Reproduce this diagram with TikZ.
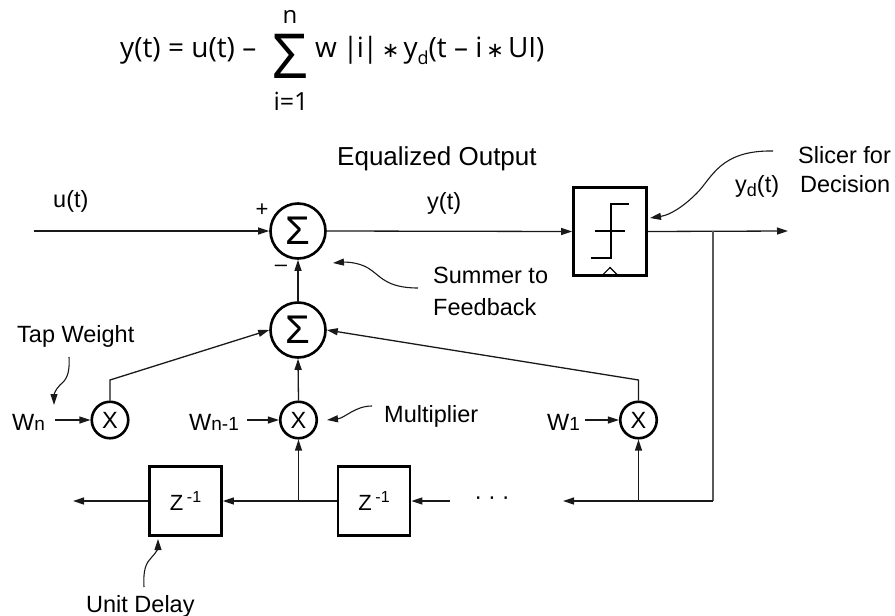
\documentclass[tikz,border=0pt]{standalone}
\usepackage{fontspec}
\setmainfont{Liberation Sans}
\newfontfamily\eqfont{Open Sans}
\newfontfamily\symfont{DejaVu Sans}
\usetikzlibrary{arrows.meta}
\newcommand\myfs[1]{\fontsize{#1}{#1}\selectfont}
\newcommand\myast{{\symfont\myfs{21}∗}}
\begin{document}
\begin{tikzpicture}[x=1pt,y=-1pt,
  conn/.style={line width=1.3pt, draw=black!90},
  arr/.style={conn, -{Triangle[length=11pt,width=7pt]}},
  sumnode/.style={circle, draw, line width=2.6pt, minimum size=55pt, inner sep=0pt, font=\myfs{40}},
  mulnode/.style={circle, draw, line width=2.6pt, minimum size=36.5pt, inner sep=0pt, font=\myfs{23.5}},
  delaybox/.style={rectangle, draw, line width=2.8pt, minimum width=72pt, minimum height=69pt, inner sep=0pt, font=\myfs{22}},
  slicerbox/.style={rectangle, draw, line width=2.8pt, minimum width=73pt, minimum height=88pt, inner sep=0pt},
  lbl/.style={inner sep=0pt, anchor=base west, font=\myfs{23.5}},
  eq/.style={inner sep=0pt, font=\eqfont\myfs{28}},
  stepline/.style={line width=2.4pt},
]
\useasboundingbox (0,0) rectangle (895,616);

% formula
\node[eq, anchor=base west] (f1) at (120,57) {y(t) = u(t) –};
\node[eq, anchor=base, font=\eqfont\myfs{62}] (fsig) at (290,78) {Σ};
\node[eq, anchor=base, font=\eqfont\myfs{24}] (fn) at (290,23) {n};
\node[eq, anchor=base, font=\eqfont\myfs{25}] (fi) at (291,110) {i=1};
\node[eq, anchor=base west] (f2) at (315,57) {w\hspace{6pt}|\kern-1.5pt i\kern-1.5pt|\hspace{4pt}\myast\hspace{4pt}y\raisebox{-7pt}{\myfs{18}d}(t – i\hspace{4pt}\myast\hspace{4pt}UI)};

% blocks
\node[sumnode] (sumA) at (298,231) {Σ};
\node[sumnode] (sumB) at (298,330) {Σ};
\node[mulnode] (mulN) at (110,420) {X};
\node[mulnode] (mulM) at (298.5,420) {X};
\node[mulnode] (mul1) at (638.5,420) {X};
\node[delaybox] (dL) at (185.5,501) {Z\,\raisebox{8pt}{\myfs{16}-1}};
\node[delaybox] (dR) at (374,501) {Z\,\raisebox{8pt}{\myfs{16}-1}};
\node[slicerbox] (slc) at (610,231.5) {};

% slicer symbol
\draw[stepline] (590.7,258) -- (610.7,258) -- (610.7,204) -- (629,204);
\draw[stepline] (595,231) -- (625,231);
\draw[line width=1.1pt] (601.7,276) -- (610,267.5) -- (618.5,276);

% coordinates
\coordinate (uin) at (34,231);
\coordinate (yout) at (788,231);
\coordinate (fbt) at (713,231);
\coordinate (fbb) at (713,501);
\coordinate (tap1) at (638.5,501);
\coordinate (dotsEnd) at (563,501);
\coordinate (dIn) at (450,501);
\coordinate (tapM) at (298.5,501);
\coordinate (dOut) at (73,501);
\coordinate (kN) at (110,380);
\coordinate (k1) at (638.5,380);
\node[inner sep=0pt, font=\myfs{23.5}] (dots) at (492,501) {·\hspace{6pt}·\hspace{6pt}·};

% connectors
\draw[arr] (uin) -- (sumA.west);
\draw[arr] (sumA.east) -- (slc.west);
\draw[arr] (slc.east) -- (yout);
\draw[line width=1.8pt, draw=black!65] (fbt) -- (fbb);
\draw[arr] (fbb) -- (dotsEnd);
\draw[arr] (tap1) -- (mul1.south);
\draw[arr] (dIn) -- (dR.east);
\draw[arr] (dR.west) -- (dL.east);
\draw[arr] (tapM) -- (mulM.south);
\draw[arr] (dL.west) -- (dOut);
\draw[arr] (mulN.north) -- (kN) -- (sumB.west);
\draw[arr] (mul1.north) -- (k1) -- (sumB.east);
\draw[arr] (mulM.north) -- (sumB.south);
\draw[arr] (sumB.north) -- (sumA.south);

% weights
\node[lbl] (wN) at (12,430) {W{\myfs{19}n}};
\node[lbl] (wM) at (189,430) {W{\myfs{19}n-1}};
\node[lbl] (w1) at (547,430) {W{\myfs{19}1}};
\draw[arr, shorten <=10pt] (wN.east |- mulN) -- (mulN.west);
\draw[arr, shorten <=8pt] (wM.east |- mulM) -- (mulM.west);
\draw[arr, shorten <=5pt] (w1.east |- mul1) -- (mul1.west);

% labels
\node[lbl] (uLbl) at (53,207) {u(t)};
\node[lbl] (yLbl) at (427,209) {y(t)};
\node[lbl, font=\myfs{26}] (eqLbl) at (337,165) {Equalized Output};
\node[inner sep=0pt, font=\myfs{22}] (plus) at (262,210) {+};
\node[inner sep=0pt, font=\myfs{22}] (minus) at (281,268) {–};
\node[lbl] (sm1) at (433,283) {Summer to};
\node[lbl] (sm2) at (433,315) {Feedback};
\node[lbl] (sl1) at (798,163) {Slicer for};
\node[lbl] (sl2) at (800,192) {Decision};
\node[lbl] (yd) at (735,192) {y\raisebox{-4pt}{\myfs{18}d}(t)};
\node[lbl] (mult) at (384,422) {Multiplier};
\node[lbl] (tapw) at (17,342) {Tap Weight};
\node[lbl] (unit) at (86,612) {Unit Delay};

% annotation pointers
\coordinate (slS) at (773,151);
\coordinate (slT) at (650,218);
\draw[arr, line width=1.1pt] (slS) .. controls (720,150) and (712,178) .. (697,193) .. controls (683,207) and (670,215) .. (slT);
\coordinate (smS) at (418,288);
\coordinate (smT) at (333,263);
\draw[arr, line width=1.1pt] (smS) .. controls (385,288) and (380,275) .. (368,268) .. controls (358,262) and (345,262) .. (smT);
\coordinate (muS) at (372,406);
\coordinate (muT) at (327,420);
\draw[arr, line width=1.1pt] (muS) .. controls (355,406) and (345,418) .. (muT);
\coordinate (twS) at (69,357);
\coordinate (twT) at (54,405);
\draw[arr, line width=1.1pt] (twS) .. controls (70,375) and (66,380) .. (60,385) .. controls (55,390) and (54,395) .. (twT);
\coordinate (udS) at (144,587);
\coordinate (udT) at (158,539);
\draw[arr, line width=1.1pt] (udS) .. controls (143,570) and (146,563) .. (151,558) .. controls (156,553) and (158,548) .. (udT);
\end{tikzpicture}
\end{document}
